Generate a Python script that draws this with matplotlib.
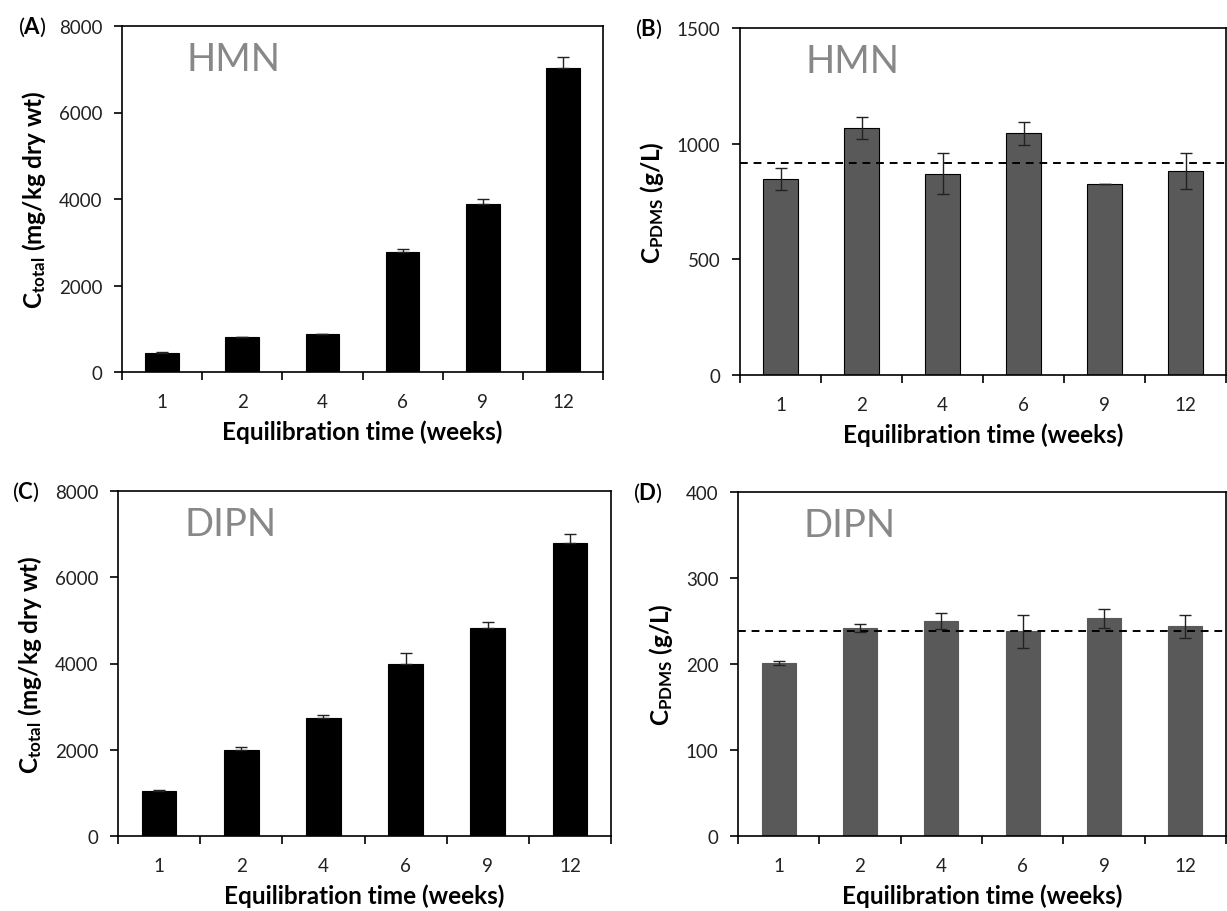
import matplotlib.pyplot as plt
from matplotlib import rcParams
from matplotlib.ticker import FixedLocator, NullFormatter

rcParams['font.family'] = ['Lato', 'DejaVu Sans']
rcParams['mathtext.fontset'] = 'custom'
rcParams['mathtext.rm'] = 'Lato'
rcParams['mathtext.bf'] = 'Lato:bold'

weeks = ['1', '2', '4', '6', '9', '12']

# (A) HMN total concentration
hmn_total = [445, 800, 883, 2780, 3893, 7040]
hmn_total_err = [25, 0, 0, 60, 115, 240]
# (B) HMN PDMS concentration
hmn_pdms = [846, 1067, 870, 1044, 826, 881]
hmn_pdms_err = [48, 48, 88, 48, 0, 77]
hmn_pdms_mean = 917
# (C) DIPN total concentration
dipn_total = [1048, 2004, 2746, 3977, 4834, 6799]
dipn_total_err = [25, 50, 70, 260, 120, 200]
# (D) DIPN PDMS concentration
dipn_pdms = [201.5, 241.8, 250.3, 238, 253, 244]
dipn_pdms_err = [2.3, 4.5, 9.5, 19.5, 11.5, 13.5]
dipn_pdms_mean = 238.4

W, H = 1227, 912
fig = plt.figure(figsize=(W / 100, H / 100), dpi=100)


def px_axes(l, r, t, b):
    return fig.add_axes([l / W, 1 - b / H, (r - l) / W, (b - t) / H])


def panel(ax, vals, err, color, ymax, ystep, ylab, name, letter,
          sym_err=False, mean=None, edge='black'):
    x = list(range(1, len(vals) + 1))
    if sym_err:
        yerr = err
    else:
        yerr = [[0] * len(err), err]
    ax.bar(x, vals, width=0.42, color=color, edgecolor=edge,
           linewidth=0.8, zorder=2)
    ax.errorbar(x, vals, yerr=yerr, fmt='none', ecolor='#222222',
                elinewidth=1.0, capsize=4, capthick=1.0, zorder=3)
    if mean is not None:
        ax.axhline(mean, color='black', linestyle=(0, (4, 3)), lw=1.4,
                   zorder=4)
    ax.set_xlim(0.5, len(vals) + 0.5)
    ax.set_ylim(0, ymax)
    ax.set_yticks(range(0, ymax + 1, ystep))
    ax.xaxis.set_major_locator(FixedLocator([i + 0.5 for i in range(len(vals) + 1)]))
    ax.xaxis.set_major_formatter(NullFormatter())
    ax.xaxis.set_minor_locator(FixedLocator(x))
    ax.set_xticklabels(weeks, minor=True)
    ax.tick_params(axis='x', which='major', direction='out', length=6,
                   width=1.2)
    ax.tick_params(axis='x', which='minor', length=0, pad=15,
                   labelsize=13.5, labelcolor='#222222')
    ax.tick_params(axis='y', direction='out', length=6, width=1.2,
                   labelsize=13.5, labelcolor='#222222', pad=8)
    for s in ax.spines.values():
        s.set_linewidth(1.2)
    ax.set_xlabel('Equilibration time (weeks)', fontsize=17.5,
                  fontweight='bold', labelpad=7)
    ax.set_ylabel(ylab, fontsize=17.5, fontweight='bold', labelpad=8)
    ax.text(0.135, 0.905, name, transform=ax.transAxes, fontsize=27.5,
            color='#888888', va='center', ha='left')
    ax.text(-0.216, 1.0, r'($\mathbf{' + letter + r'}$)', transform=ax.transAxes,
            fontsize=16, va='center', ha='left')


ylab_total = r'$\mathbf{C_{total}}$ (mg/kg dry wt)'
ylab_pdms = r'$\mathbf{C_{PDMS}}$ (g/L)'

ax_a = px_axes(122, 603, 27, 373)
panel(ax_a, hmn_total, hmn_total_err, 'black', 8000, 2000, ylab_total, 'HMN', 'A')

ax_b = px_axes(740, 1226, 29, 376)
panel(ax_b, hmn_pdms, hmn_pdms_err, '#595959', 1500, 500, ylab_pdms, 'HMN', 'B',
      sym_err=True, mean=hmn_pdms_mean)

ax_c = px_axes(118, 611, 492, 837)
panel(ax_c, dipn_total, dipn_total_err, 'black', 8000, 2000, ylab_total, 'DIPN', 'C')

ax_d = px_axes(738, 1226, 493, 837)
panel(ax_d, dipn_pdms, dipn_pdms_err, '#595959', 400, 100, ylab_pdms, 'DIPN', 'D',
      sym_err=True, mean=dipn_pdms_mean, edge='#595959')

fig.savefig('out.png', dpi=100)
